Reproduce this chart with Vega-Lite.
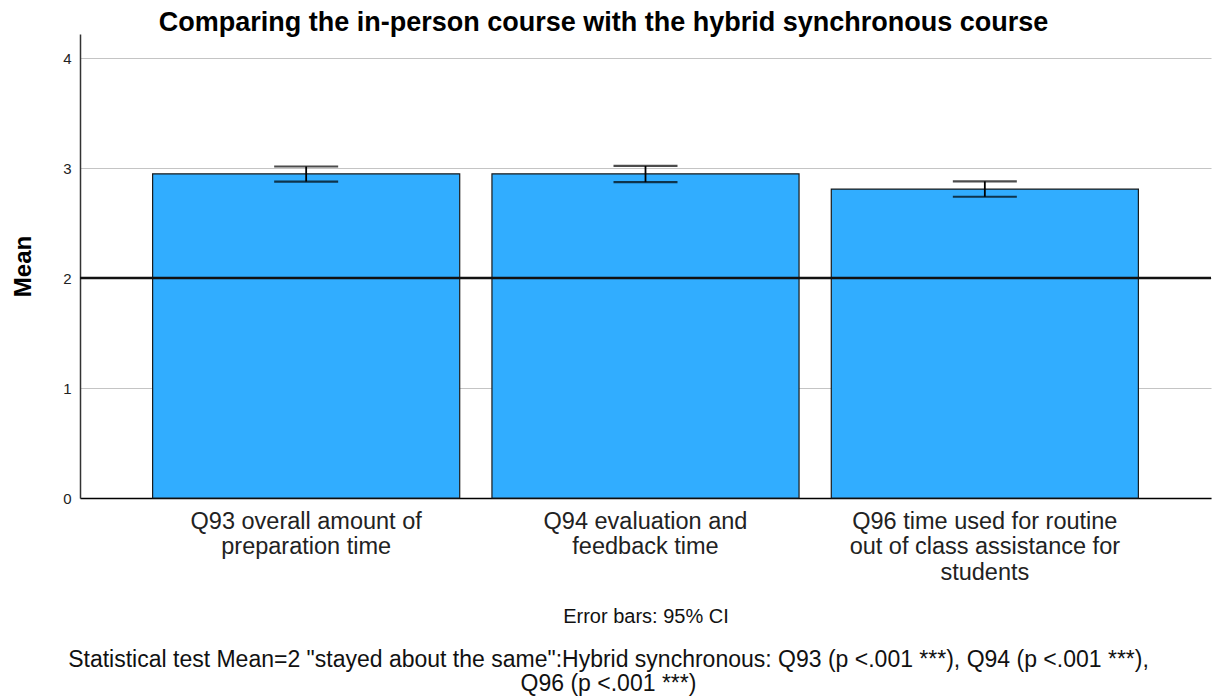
{
  "$schema": "https://vega.github.io/schema/vega-lite/v6.json",
  "autosize": {"type": "none"},
  "width": 1131,
  "height": 464,
  "padding": {"left": 80, "top": 34, "right": 5, "bottom": 198},
  "background": "white",
  "title": {
    "text": ["Statistical test Mean=2 \"stayed about the same\":Hybrid synchronous: Q93 (p <.001 ***), Q94 (p <.001 ***),", "Q96 (p <.001 ***)"],
    "orient": "bottom",
    "font": "Liberation Sans",
    "fontSize": 23,
    "fontWeight": "normal",
    "lineHeight": 24,
    "color": "#111111",
    "anchor": "middle",
    "frame": "group",
    "dx": -37,
    "offset": 22
  },
  "config": {
    "view": {"stroke": null},
    "axis": {"labelFont": "Liberation Sans", "titleFont": "Liberation Sans"}
  },
  "data": {
    "values": [
      {"item": "Q93 overall amount of|preparation time", "mean": 2.948, "lo": 2.878, "hi": 3.015},
      {"item": "Q94 evaluation and|feedback time", "mean": 2.948, "lo": 2.873, "hi": 3.02},
      {"item": "Q96 time used for routine|out of class assistance for|students", "mean": 2.81, "lo": 2.74, "hi": 2.88}
    ]
  },
  "resolve": {"axis": {"x": "independent"}},
  "layer": [
    {
      "mark": {"type": "bar", "fill": "#31adff", "stroke": "#1a1a1a", "strokeWidth": 1.2},
      "encoding": {
        "x": {
          "field": "item",
          "type": "nominal",
          "sort": null,
          "scale": {"paddingInner": 0.095, "paddingOuter": 0.214},
          "axis": {
            "orient": "bottom",
            "labelAngle": 0,
            "labelExpr": "split(datum.value, '|')",
            "labelFontSize": 23.5,
            "labelLineHeight": 25.5,
            "labelColor": "#222222",
            "labelPadding": 11,
            "labelLimit": 0,
            "ticks": false,
            "grid": false,
            "domainColor": "#000000",
            "domainWidth": 1.5,
            "title": "Error bars: 95% CI",
            "titleFontSize": 20,
            "titleFontWeight": "normal",
            "titleColor": "#111111",
            "titlePadding": 23
          }
        },
        "y": {
          "field": "mean",
          "type": "quantitative",
          "scale": {"domain": [0, 4.22], "nice": false, "zero": true},
          "axis": {
            "values": [0, 1, 2, 3, 4],
            "format": "d",
            "labelFontSize": 15,
            "labelColor": "#222222",
            "labelPadding": 9,
            "ticks": false,
            "grid": true,
            "gridColor": "#c4c4c4",
            "gridWidth": 1.2,
            "domainColor": "#333333",
            "domainWidth": 1.5,
            "title": "Mean",
            "titleFontSize": 24,
            "titleFontWeight": "bold",
            "titleColor": "#000000",
            "titlePadding": 27
          }
        }
      }
    },
    {
      "mark": {"type": "rule", "color": "#000000", "strokeWidth": 1.8},
      "encoding": {
        "x": {
          "field": "item",
          "type": "nominal",
          "sort": null,
          "axis": {
            "orient": "top",
            "labels": false,
            "ticks": false,
            "domain": false,
            "grid": false,
            "title": "Comparing the in-person course with the hybrid synchronous course",
            "titleFontSize": 27,
            "titleFontWeight": "bold",
            "titleColor": "#000000",
            "titleX": 523,
            "titleY": -4,
            "titleBaseline": "alphabetic",
            "titleAnchor": "middle"
          }
        },
        "y": {"field": "lo", "type": "quantitative"},
        "y2": {"field": "hi"}
      }
    },
    {
      "mark": {"type": "tick", "color": "#000000", "size": 64, "thickness": 2.2, "orient": "horizontal"},
      "encoding": {
        "x": {"field": "item", "type": "nominal", "sort": null, "axis": null},
        "y": {"field": "lo", "type": "quantitative"}
      }
    },
    {
      "mark": {"type": "tick", "color": "#000000", "size": 64, "thickness": 2.2, "orient": "horizontal"},
      "encoding": {
        "x": {"field": "item", "type": "nominal", "sort": null, "axis": null},
        "y": {"field": "hi", "type": "quantitative"}
      }
    },
    {
      "data": {"values": [{"ref": 2}]},
      "mark": {"type": "rule", "color": "#111111", "strokeWidth": 2.5},
      "encoding": {"y": {"field": "ref", "type": "quantitative"}, "x": {"value": 0}, "x2": {"value": 1131}}
    }
  ]
}
